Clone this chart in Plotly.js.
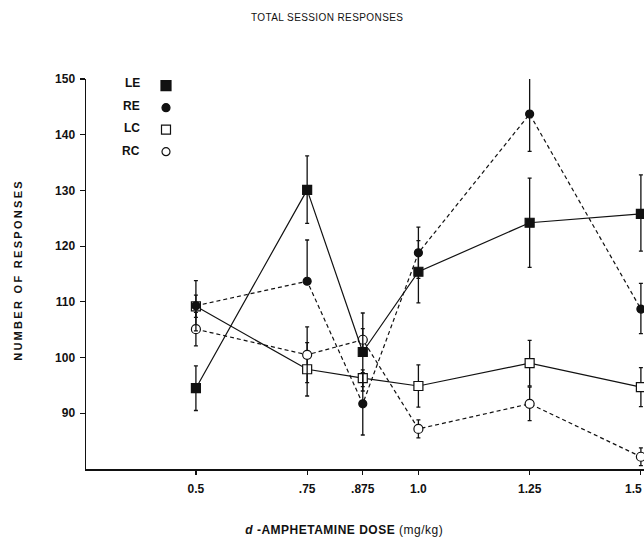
<!DOCTYPE html>
<html>
<head>
<meta charset="utf-8">
<script src="https://cdn.plot.ly/plotly-3.0.1.min.js"></script>
<style>
html,body{margin:0;padding:0;background:#fff}
#chart{width:644px;height:540px}
g.annotation[data-index="4"] text{letter-spacing:2.3px}
g.annotation[data-index="5"] text{letter-spacing:0.5px}
g.g-gtitle text{letter-spacing:0.4px}
</style>
</head>
<body>
<div id="chart"></div>
<script>
// Data
const doses = [0.5, 0.75, 0.875, 1.0, 1.25, 1.5];
const doseLabels = ['0.5', '.75', '.875', '1.0', '1.25', ''];
const lastDoseLabel = '1.5';
const yTicks = [90, 100, 110, 120, 130, 140, 150];

const LE = [94.5, 130.1, 101.0, 115.4, 124.2, 125.8];
const LE_plus = [4, 6.1, 7, 5.6, 8, 7];
const LE_minus = [4, 6, 7, 5.6, 8, 6.7];

const RE = [109.3, 113.7, 91.7, 118.8, 143.7, 108.7];
const RE_plus = [4.5, 7.4, 5.6, 4.6, 6.7, 4.6];
const RE_minus = [4.5, 0, 5.6, 4.6, 6.7, 4.4];

const LC = [109.2, 97.9, 96.3, 94.9, 99.0, 94.7];
const LC_err = [2, 4.8, 1.5, 3.8, 4.1, 3.5];

const RC = [105.1, 100.5, 103.2, 87.2, 91.7, 82.2];
const RC_err = [3, 5, 2, 1.6, 3, 1.6];

const seriesNames = ['LE', 'RE', 'LC', 'RC'];

const K = '#111';
const FONT = 'Liberation Sans, Arial, sans-serif';
function errY(plus, minus) {
  return {type: 'data', symmetric: false, array: plus, arrayminus: minus,
          color: K, thickness: 1.3, width: 2};
}
function mk(name, y, plus, minus, dash, symbol, filled, size) {
  return {
    type: 'scatter', mode: 'lines+markers', name: name, x: doses, y: y,
    showlegend: false, cliponaxis: false,
    line: {color: K, width: 1.2, dash: dash},
    marker: {symbol: symbol, size: size, color: filled ? K : '#fff',
             line: {color: K, width: 1.2}},
    error_y: errY(plus, minus)
  };
}
function legendOnly(name, symbol, filled, size) {
  return {
    type: 'scatter', mode: 'markers', name: ' ', x: [null], y: [null],
    showlegend: true, legendgroup: name,
    marker: {symbol: symbol, size: size, color: filled ? K : '#fff',
             line: {color: K, width: 1.2}}
  };
}

const traces = [
  mk('LC', LC, LC_err, LC_err, 'solid', 'square', false, 9),
  mk('RC', RC, RC_err, RC_err, '4px,3px', 'circle', false, 9),
  mk('LE', LE, LE_plus, LE_minus, 'solid', 'square', true, 9),
  mk('RE', RE, RE_plus, RE_minus, '4px,3px', 'circle', true, 8),
  legendOnly('LE', 'square', true, 10),
  legendOnly('RE', 'circle', true, 8),
  legendOnly('LC', 'square', false, 9),
  legendOnly('RC', 'circle', false, 8)
];

const labelY = [0.9897, 0.9308, 0.8744, 0.8154];
const annotations = seriesNames.map((n, i) => ({
  text: n, xref: 'paper', yref: 'paper', x: 0.1004, y: labelY[i],
  xanchor: 'right', yanchor: 'middle', showarrow: false,
  font: {family: FONT, size: 12, color: K, weight: 'bold'}
}));
annotations.push({
  text: 'NUMBER OF RESPONSES', xref: 'paper', yref: 'paper', x: -0.122, y: 0.51,
  textangle: -90, showarrow: false, xanchor: 'center', yanchor: 'middle',
  font: {family: FONT, size: 11, color: K, weight: 'bold'}
});
annotations.push({
  text: '<i>d</i> -AMPHETAMINE DOSE <span style="font-weight:normal">(mg/kg)</span>',
  xref: 'paper', yref: 'paper', x: (344 - 86) / 558, y: -(530 - 469) / 390,
  showarrow: false, xanchor: 'center', yanchor: 'middle',
  font: {family: FONT, size: 12, color: K, weight: 'bold'}
});
// last x tick label, kept inside the page edge
annotations.push({
  text: lastDoseLabel, xref: 'paper', yref: 'paper', x: 1, y: -(489 - 469) / 390,
  showarrow: false, xanchor: 'right', yanchor: 'middle',
  font: {family: FONT, size: 12, color: K, weight: 'bold'}
});

const layout = {
  width: 644, height: 540,
  margin: {l: 86, r: 0, t: 79, b: 71, pad: 0},
  paper_bgcolor: '#fff', plot_bgcolor: '#fff',
  title: {text: 'TOTAL SESSION RESPONSES', xref: 'container', yref: 'container',
          x: 0.508, y: 0.968, xanchor: 'center', yanchor: 'middle',
          font: {family: FONT, size: 10, color: K}},
  xaxis: {range: [0.253, 1.507], tickvals: doses, ticktext: doseLabels,
          ticks: 'outside', ticklen: 4, tickwidth: 1.2, tickcolor: K,
          showline: true, linecolor: K, linewidth: 1.5, showgrid: false, zeroline: false,
          ticklabelstandoff: 4,
          tickfont: {family: FONT, size: 12, color: K, weight: 'bold'}},
  yaxis: {range: [80, 150], tickvals: yTicks,
          ticks: 'outside', ticklen: 5, tickwidth: 1.2, tickcolor: K,
          showline: true, linecolor: K, linewidth: 1.5, showgrid: false, zeroline: false,
          ticklabelstandoff: 2,
          tickfont: {family: FONT, size: 12, color: K, weight: 'bold'}},
  showlegend: true,
  legend: {x: (146 - 86) / 558, y: 1.02, xanchor: 'left', yanchor: 'top',
           bgcolor: 'rgba(0,0,0,0)', tracegroupgap: 3, traceorder: 'grouped',
           font: {size: 12}},
  annotations: annotations
};

Plotly.newPlot('chart', traces, layout, {displayModeBar: false, staticPlot: true});
</script>
</body>
</html>
